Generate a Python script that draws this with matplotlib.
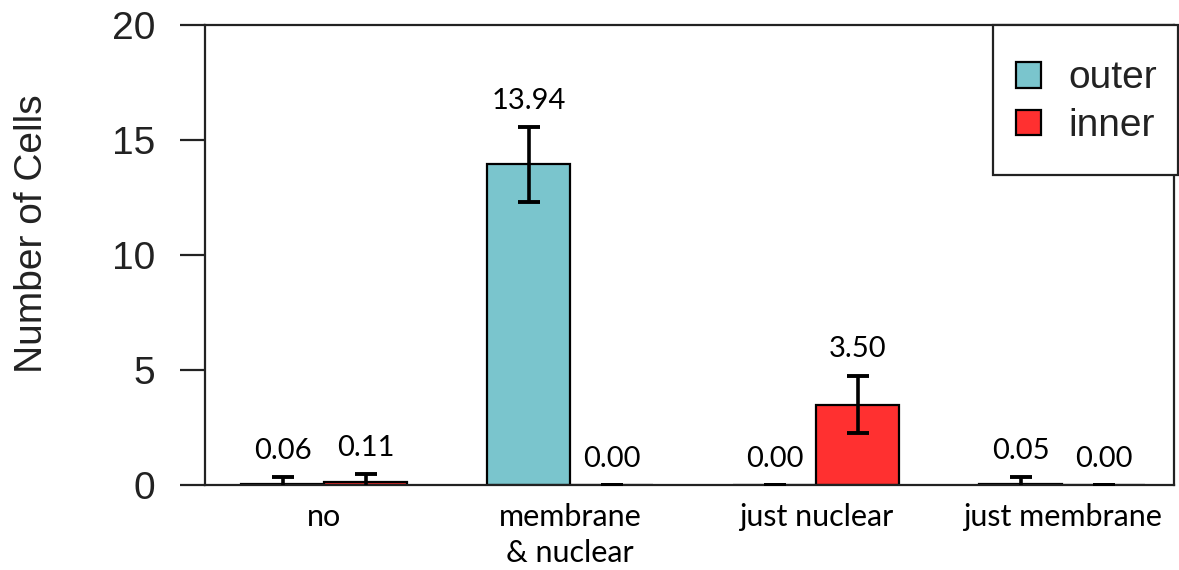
"""Bar chart of cell counts by staining pattern, outer vs inner"""
import numpy as np
import matplotlib
matplotlib.use("Agg")
from matplotlib import pyplot as plt
from matplotlib.patches import Rectangle

categories = ["no", "membrane\n& nuclear", "just nuclear", "just membrane"]
outer = [0.06, 13.94, 0.00, 0.05]
inner = [0.11, 0.00, 3.50, 0.00]
outer_err = [0.27, 1.63, 0.00, 0.30]
inner_err = [0.35, 0.00, 1.26, 0.00]
series_names = ["outer", "inner"]
colors = ["#7AC5CD", "#FF3030"]

label_font = "Lato"
axis_font = "Liberation Sans"
ink = "#222222"

fig = plt.figure(figsize=(11.79, 5.70), dpi=100)
ax = fig.add_axes([0.1739, 0.1491, 0.8219, 0.807])

x = np.arange(len(categories))
width = 0.337
for offset, values, errs, color, name in zip(
    [-width / 2, width / 2], [outer, inner], [outer_err, inner_err], colors, series_names
):
    pos = x + offset
    ax.bar(pos, values, width, color=color, edgecolor="black",
           linewidth=1.6, label=name, zorder=2)
    ax.errorbar(pos, values, yerr=errs, fmt="none", ecolor="black",
                elinewidth=2.6, capsize=8, capthick=2.8, zorder=3)
    for p, v, e in zip(pos, values, errs):
        ax.annotate("{:.2f}".format(v), (p, v + e), xytext=(0, 19),
                    textcoords="offset points", ha="center", va="center",
                    fontsize=21, family=label_font)

ax.set_xlim(-0.484, 3.455)
ax.set_ylim(0, 20)
ax.set_yticks([0, 5, 10, 15, 20])
ax.set_xticks(x)
ax.set_xticklabels(categories, fontsize=22, family=label_font, linespacing=1.35)
ax.tick_params(axis="x", length=0, pad=13)
ax.tick_params(axis="y", length=18, width=1.6, pad=18, labelsize=28, colors=ink)
for lab in ax.get_yticklabels():
    lab.set_family(axis_font)
ax.set_ylabel("Number of Cells", fontsize=28, family=axis_font, color=ink)
ax.yaxis.set_label_coords(-0.16, 0.546)
for spine in ax.spines.values():
    spine.set_linewidth(1.6)
    spine.set_color(ink)

# legend box drawn separately so the inner padding can be taller than wide
box = Rectangle((0.813, 0.674), 0.191, 0.326, transform=ax.transAxes,
                facecolor="white", edgecolor=ink, linewidth=1.6,
                clip_on=False, zorder=4)
ax.add_patch(box)
leg = ax.legend(loc="center", bbox_to_anchor=(0.91, 0.832), borderaxespad=0,
                frameon=False, handlelength=0.64, handleheight=0.64,
                handletextpad=0.7, labelspacing=0.3, borderpad=0,
                prop={"family": axis_font, "size": 28})
leg.set_zorder(5)
for txt in leg.get_texts():
    txt.set_color(ink)

fig.savefig("out.png", dpi=100)
